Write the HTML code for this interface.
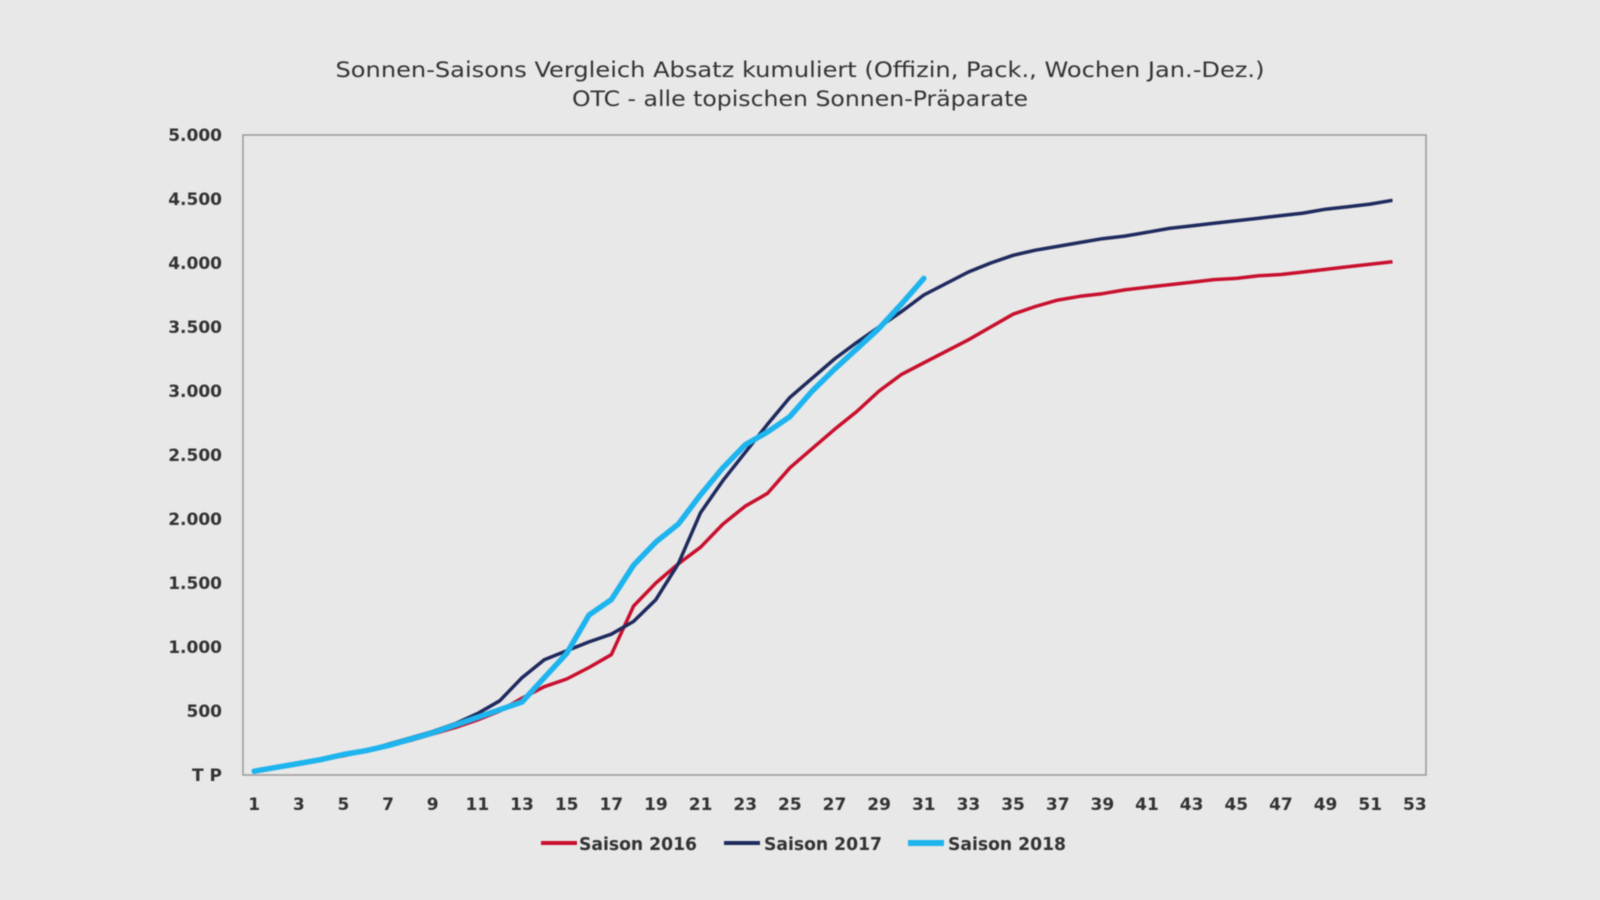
<!DOCTYPE html>
<html><head><meta charset="utf-8"><style>
html,body{margin:0;padding:0;background:#e8e8e8;}
svg{display:block;filter:blur(0.6px);}
text{font-family:"DejaVu Sans","Liberation Sans",sans-serif;fill:#333;font-weight:bold;}
</style></head><body>
<svg width="1600" height="900" viewBox="0 0 1600 900" xmlns="http://www.w3.org/2000/svg">
<rect width="1600" height="900" fill="#e8e8e8"/>
<text x="800" y="77" font-size="21" text-anchor="middle" textLength="929" lengthAdjust="spacingAndGlyphs" style="font-weight:normal">Sonnen-Saisons Vergleich Absatz kumuliert (Offizin, Pack., Wochen Jan.-Dez.)</text>
<text x="800" y="106" font-size="21" text-anchor="middle" textLength="456" lengthAdjust="spacingAndGlyphs" style="font-weight:normal">OTC - alle topischen Sonnen-Präparate</text>
<rect x="243" y="135" width="1183" height="640" fill="none" stroke="#999" stroke-width="1.5"/>
<g id="yl" font-size="17" text-anchor="end"></g>
<g id="xl" font-size="17" text-anchor="middle"></g>
<g id="lines"></g>
<g font-size="18">
<line x1="541" y1="843" x2="577" y2="843" stroke="#c8102e" stroke-width="4"/>
<text x="579" y="850" textLength="118" lengthAdjust="spacingAndGlyphs">Saison 2016</text>
<line x1="724" y1="843" x2="760" y2="843" stroke="#1f2a5e" stroke-width="4"/>
<text x="764" y="850" textLength="118" lengthAdjust="spacingAndGlyphs">Saison 2017</text>
<line x1="908" y1="843" x2="944" y2="843" stroke="#1eb4ee" stroke-width="6"/>
<text x="948" y="850" textLength="118" lengthAdjust="spacingAndGlyphs">Saison 2018</text>
</g>
</svg>
<script>
const NS="http://www.w3.org/2000/svg";
function el(t,a,txt,p){const e=document.createElementNS(NS,t);for(const k in a)e.setAttribute(k,a[k]);if(txt!=null)e.textContent=txt;document.getElementById(p).appendChild(e);}
const X=w=>243+(w-0.5)*1183/53, Y=v=>775-v*0.128;
const yl=["T P","500","1.000","1.500","2.000","2.500","3.000","3.500","4.000","4.500","5.000"];
yl.forEach((s,i)=>el("text",{x:222,y:Y(i*500)+6},s,"yl"));
for(let w=1;w<=53;w+=2)el("text",{x:X(w),y:810},String(w),"xl");
const d16=[30,60,90,120,150,190,230,270,320,370,430,500,600,690,750,840,940,1320,1500,1650,1780,1960,2100,2200,2400,2550,2700,2840,3000,3130,3220,3310,3400,3500,3600,3660,3710,3740,3760,3790,3810,3830,3850,3870,3880,3900,3910,3930,3950,3970,3990,4010];
const d17=[30,60,90,120,160,190,240,290,340,400,480,580,760,900,970,1040,1100,1200,1370,1650,2050,2300,2520,2740,2950,3100,3250,3380,3500,3620,3750,3840,3930,4000,4060,4100,4130,4160,4190,4210,4240,4270,4290,4310,4330,4350,4370,4390,4420,4440,4460,4490];
const d18=[30,60,90,120,160,190,230,280,330,390,450,510,570,760,950,1250,1370,1640,1820,1960,2190,2400,2580,2680,2800,3000,3170,3330,3490,3680,3880];
const pts=d=>d.map((v,i)=>X(i+1).toFixed(1)+","+Y(v).toFixed(1)).join(" ");
el("polyline",{points:pts(d16),fill:"none",stroke:"#c8102e","stroke-width":3.5,"stroke-linejoin":"round"},null,"lines");
el("polyline",{points:pts(d17),fill:"none",stroke:"#1f2a5e","stroke-width":3.5,"stroke-linejoin":"round"},null,"lines");
el("polyline",{points:pts(d18),fill:"none",stroke:"#1eb4ee","stroke-width":5.5,"stroke-linejoin":"round","stroke-linecap":"round"},null,"lines");
</script>
</body></html>
